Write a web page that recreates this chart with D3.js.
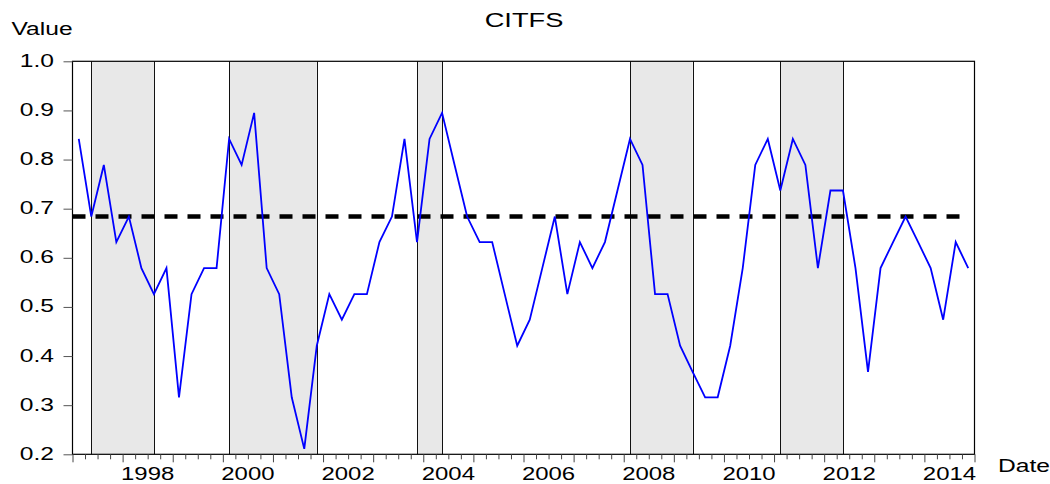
<!DOCTYPE html>
<html>
<head>
<meta charset="utf-8">
<script src="https://cdn.jsdelivr.net/npm/d3@7"></script>
<style>
  html, body { margin: 0; padding: 0; background: #fff; }
  svg text { font-family: "Liberation Sans", Arial, sans-serif; fill: #000; }
</style>
</head>
<body>
<svg id="chart" width="1050" height="484"></svg>
<script>
(function () {
  'use strict';

  // quarterly series, 1997Q1 .. 2014Q4
  var startYear = 1997;
  var citfs = [
    0.842, 0.684, 0.789, 0.632, 0.684, 0.579, 0.526, 0.579, 0.316, 0.526, 0.579, 0.579,
    0.842, 0.789, 0.895, 0.579, 0.526, 0.316, 0.211, 0.421, 0.526, 0.474, 0.526, 0.526,
    0.632, 0.684, 0.842, 0.632, 0.842, 0.895, 0.789, 0.684, 0.632, 0.632, 0.526, 0.421,
    0.474, 0.579, 0.684, 0.526, 0.632, 0.579, 0.632, 0.737, 0.842, 0.789, 0.526, 0.526,
    0.421, 0.368, 0.316, 0.316, 0.421, 0.579, 0.789, 0.842, 0.737, 0.842, 0.789, 0.579,
    0.737, 0.737, 0.579, 0.368, 0.579, 0.632, 0.684, 0.632, 0.579, 0.474, 0.632, 0.579
  ];
  var meanLevel = 0.684;
  var shaded = [
    ["1997Q2", "1998Q3"],
    ["2000Q1", "2001Q4"],
    ["2003Q4", "2004Q2"],
    ["2008Q1", "2009Q2"],
    ["2011Q1", "2012Q2"]
  ];
  var yTicks = [0.2, 0.3, 0.4, 0.5, 0.6, 0.7, 0.8, 0.9, 1.0];
  var yearLabels = [1998, 2000, 2002, 2004, 2006, 2008, 2010, 2012, 2014];

  var left = 72.5, right = 974.5, top = 61.3, bottom = 454.3;
  var stretch = 1.33;

  var svg = d3.select("#chart");

  var x = d3.scaleLinear().domain([1997, 2015]).range([left, right]);
  var y = d3.scaleLinear().domain([0.2, 1.0]).range([bottom, top]);

  // quarter "YYYYQn" -> centre of that quarter
  function qx(q) {
    var yr = +q.slice(0, 4), n = +q.slice(5);
    return yr + (n - 0.5) / 4;
  }

  var data = citfs.map(function (v, i) {
    return { t: startYear + (i + 0.5) / 4, v: v };
  });

  function label(x0, y0, str, anchor, size) {
    return svg.append("text")
      .attr("transform", "translate(" + x0 + "," + y0 + ") scale(" + stretch + ",1)")
      .attr("text-anchor", anchor)
      .style("font-size", size + "px")
      .text(str);
  }

  // shaded periods
  var shade = svg.append("g");
  shaded.forEach(function (p) {
    var x0 = x(qx(p[0])), x1 = x(qx(p[1]));
    shade.append("rect")
      .attr("x", x0).attr("y", top)
      .attr("width", x1 - x0).attr("height", bottom - top)
      .attr("fill", "#e8e8e8");
    [x0, x1].forEach(function (xx) {
      shade.append("line")
        .attr("x1", Math.round(xx) + 0.5).attr("x2", Math.round(xx) + 0.5)
        .attr("y1", top).attr("y2", bottom)
        .attr("stroke", "#111").attr("stroke-width", 1);
    });
  });

  // mean line
  svg.append("line")
    .attr("x1", left).attr("x2", x(data[data.length - 1].t))
    .attr("y1", y(meanLevel)).attr("y2", y(meanLevel))
    .attr("stroke", "#000").attr("stroke-width", 4.5)
    .attr("stroke-dasharray", "13,10");

  // series
  var line = d3.line()
    .x(function (d) { return x(d.t); })
    .y(function (d) { return y(d.v); });

  svg.append("path")
    .datum(data)
    .attr("d", line)
    .attr("fill", "none")
    .attr("stroke", "#0000ff")
    .attr("stroke-width", 1.8)
    .attr("stroke-linejoin", "miter");

  // frame
  svg.append("rect")
    .attr("x", left).attr("y", top)
    .attr("width", right - left).attr("height", bottom - top)
    .attr("fill", "none").attr("stroke", "#000").attr("stroke-width", 1.2);

  // y axis ticks + labels
  var yAxis = d3.axisLeft(y).tickValues(yTicks).tickSize(9).tickFormat("");
  var gy = svg.append("g").attr("transform", "translate(" + left + ",0)").call(yAxis);
  gy.select(".domain").remove();
  gy.selectAll(".tick line").attr("stroke", "#555");
  yTicks.forEach(function (t) {
    label(54, y(t) + 5.5, d3.format(".1f")(t), "end", 18.5);
  });

  // x axis quarter ticks
  var quarterTicks = d3.range(0, 18 * 4 + 1).map(function (i) { return 1997 + i / 4; });
  var xAxis = d3.axisBottom(x).tickValues(quarterTicks).tickSize(5).tickFormat("");
  var gx = svg.append("g").attr("transform", "translate(0," + bottom + ")").call(xAxis);
  gx.select(".domain").remove();
  gx.selectAll(".tick line")
    .attr("stroke", "#444")
    .attr("y2", function (d) { return d % 1 === 0 ? 8 : 5; });

  yearLabels.forEach(function (yr) {
    label(x(yr + 0.5), 479.5, String(yr), "middle", 18);
  });

  // titles
  label(524, 26.7, "CITFS", "middle", 20.5);
  label(11.5, 35, "Value", "start", 18.5);
  label(998, 471.5, "Date", "start", 18.5);
})();
</script>
</body>
</html>
